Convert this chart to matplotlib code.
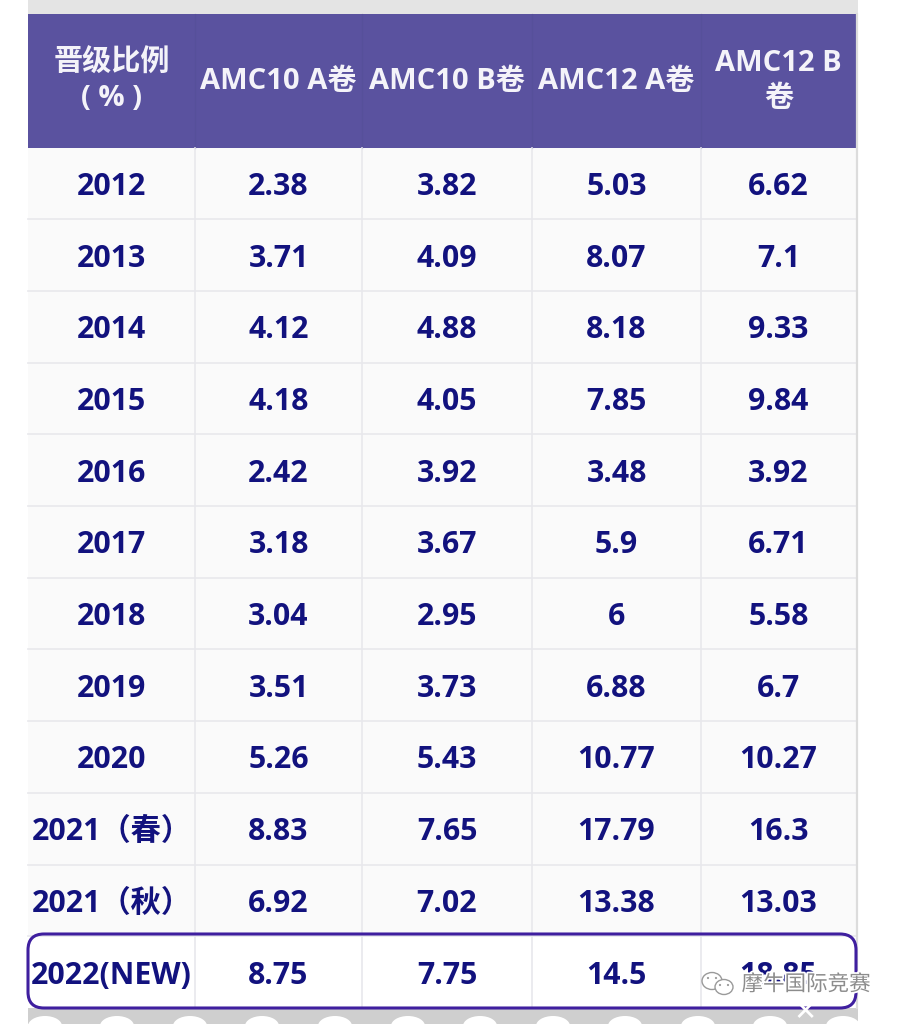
import matplotlib
matplotlib.use("Agg")
import matplotlib.pyplot as plt
from matplotlib.patches import Rectangle, FancyBboxPatch, Ellipse, Circle
import matplotlib.patheffects as pe

plt.rcParams['font.family'] = ['Open Sans', 'Noto Sans CJK SC', 'DejaVu Sans']

headers = ["晋级比例\n( % )", "AMC10 A卷", "AMC10 B卷", "AMC12 A卷", "AMC12 B\n卷"]
years = ["2012", "2013", "2014", "2015", "2016", "2017", "2018", "2019", "2020",
         "2021（春）", "2021（秋）", "2022(NEW)"]
amc10a = ["2.38", "3.71", "4.12", "4.18", "2.42", "3.18", "3.04", "3.51", "5.26", "8.83", "6.92", "8.75"]
amc10b = ["3.82", "4.09", "4.88", "4.05", "3.92", "3.67", "2.95", "3.73", "5.43", "7.65", "7.02", "7.75"]
amc12a = ["5.03", "8.07", "8.18", "7.85", "3.48", "5.9", "6", "6.88", "10.77", "17.79", "13.38", "14.5"]
amc12b = ["6.62", "7.1", "9.33", "9.84", "3.92", "6.71", "5.58", "6.7", "10.27", "16.3", "13.03", "18.85"]

col_x = [28, 195, 362, 532, 701, 856]
header_top = 14
header_bottom = 147.5
row_h = 71.7
purple = "#5a529f"
navy = "#12127e"
line = "#e8e8ec"

fig = plt.figure(figsize=(9, 10.24), dpi=100)
ax = fig.add_axes([0, 0, 1, 1])
ax.set_xlim(0, 900)
ax.set_ylim(1024, 0)
ax.axis("off")

# grey paper strips above and below the table
ax.add_patch(Rectangle((28, 0), 830, 14, fc="#e4e4e4", ec="none"))
ax.add_patch(Rectangle((28, 1008), 830, 16, fc="#cfcfcf", ec="none"))
for cx in [45, 117, 190, 262, 335, 408, 480, 553, 625, 698, 770, 843]:
    ax.add_patch(Ellipse((cx, 1026), 34, 20, fc="white", ec="none", zorder=1))

# header band
ax.add_patch(Rectangle((col_x[0], header_top), col_x[-1] - col_x[0], header_bottom - header_top,
                       fc=purple, ec="none"))
for x in col_x[1:-1]:
    ax.plot([x, x], [header_top, header_bottom], color="#56509a", lw=0.8)

# body, last row stays white
table_bottom = header_bottom + row_h * len(years)
ax.add_patch(Rectangle((col_x[0], header_bottom), col_x[-1] - col_x[0], row_h * 11, fc="#fafafa", ec="none"))
for i in range(1, len(years)):
    y = header_bottom + row_h * i
    ax.plot([col_x[0], col_x[-1]], [y, y], color=line, lw=1.2)
for x in col_x[1:-1]:
    ax.plot([x, x], [header_bottom, table_bottom], color=line, lw=1.2)
ax.plot([col_x[-1] + 1, col_x[-1] + 1], [14, 1008], color="#dcdcdc", lw=1.6)

# header text
for i, h in enumerate(headers):
    cx = (col_x[i] + col_x[i + 1]) / 2
    ax.text(cx, 81, h, color="#f4f3f9", fontsize=21, fontweight="bold",
            ha="center", va="center", linespacing=1.25)

# body text
columns = [years, amc10a, amc10b, amc12a, amc12b]
for i, col in enumerate(columns):
    cx = (col_x[i] + col_x[i + 1]) / 2
    for j, val in enumerate(col):
        cy = header_bottom + row_h * (j + 0.5) + 3.5
        ax.text(cx, cy, val, color=navy, fontsize=21.8, fontweight="bold", ha="center", va="center")

# highlight around the last row
ax.add_patch(FancyBboxPatch((42, 948), 800, 46, boxstyle="round,pad=14,rounding_size=16",
                            fc="none", ec="#3f1f9f", lw=2.2, zorder=5))

# watermark
halo = [pe.withStroke(linewidth=2.5, foreground="white")]
ax.text(806, 985, "摩牛国际竞赛", color="#8c8c8c", fontsize=15.5, ha="center", va="center",
        zorder=6, path_effects=halo)
ax.add_patch(Ellipse((712, 981), 20, 17, fc="white", ec="#9a9a9a", lw=1, zorder=6))
ax.add_patch(Ellipse((724, 987), 18, 15, fc="white", ec="#9a9a9a", lw=1, zorder=6))
for cx, cy in [(708, 978), (716, 978), (720, 985), (728, 985)]:
    ax.add_patch(Circle((cx, cy), 1.1, fc="#9a9a9a", ec="none", zorder=7))
ax.text(805, 1012, "✕", color="white", fontsize=20, ha="center", va="center", zorder=6,
        family=["DejaVu Sans"], fontweight="bold")

fig.savefig("out.png", dpi=100)
